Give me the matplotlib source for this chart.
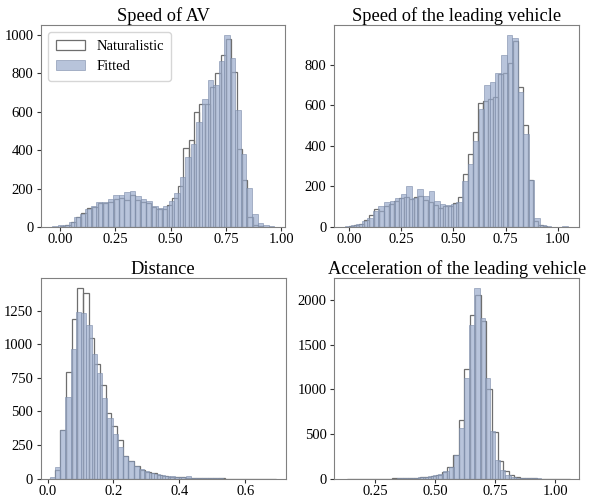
#########################################
##   Naturalistic vs fitted histograms ##
#########################################

import numpy as np
import matplotlib
matplotlib.use('Agg')
import matplotlib.pyplot as plt

plt.rcParams['font.family'] = ['Liberation Serif', 'DejaVu Serif']

# ----------------------------------------------------#

## Data (bin start, bin width and counts per bin, 40 bins each) ##
##################################################################

# Speed of AV
av_nat_start, av_nat_width = 0.0, 0.0242
av_nat = [5, 10, 25, 50, 75, 100, 105, 125, 125, 130,
          145, 150, 140, 165, 140, 130, 125, 105, 95, 95,
          115, 150, 215, 410, 450, 600, 640, 640, 730, 800,
          895, 975, 805, 405, 245, 50, 12, 5, 2, 1]
av_fit_start, av_fit_width = -0.036, 0.0251
av_fit = [3, 8, 12, 28, 50, 70, 92, 110, 128, 128,
          143, 164, 167, 180, 185, 160, 143, 135, 110, 98,
          110, 135, 175, 258, 362, 430, 545, 665, 765, 740,
          865, 1000, 880, 610, 380, 205, 70, 20, 8, 3]

# Speed of the leading vehicle
lead_nat_start, lead_nat_width = 0.0, 0.02375
lead_nat = [3, 8, 15, 35, 60, 90, 80, 105, 115, 130,
            145, 148, 140, 150, 155, 135, 125, 110, 95, 105,
            105, 120, 150, 260, 360, 470, 610, 620, 630, 640,
            755, 760, 810, 920, 690, 505, 230, 30, 8, 3]
lead_fit_start, lead_fit_width = -0.019, 0.02666
lead_fit = [5, 8, 15, 28, 45, 80, 105, 125, 130, 145,
            165, 200, 145, 190, 155, 180, 130, 115, 110, 112,
            125, 226, 310, 426, 585, 700, 717, 760, 850, 950,
            932, 665, 460, 230, 45, 12, 4, 2, 2, 3]

# Distance
dist_nat_start, dist_nat_width = 0.004, 0.0172
dist_nat = [0, 65, 360, 795, 1190, 1420, 1380, 1050, 850, 700,
            490, 390, 285, 170, 130, 95, 65, 50, 40, 28,
            20, 15, 12, 10, 8, 6, 5, 4, 3, 2,
            2, 1, 1, 1, 0, 1, 0, 0, 1, 1]
dist_fit_start, dist_fit_width = 0.0065, 0.0159
dist_fit = [12, 90, 362, 605, 965, 1240, 1235, 1145, 925, 785,
            600, 450, 330, 235, 170, 130, 95, 70, 55, 40,
            32, 25, 20, 18, 15, 15, 18, 8, 5, 4,
            3, 2, 2, 1, 1, 1, 0, 1, 0, 1]

# Acceleration of the leading vehicle
acc_nat_start, acc_nat_width = 0.134, 0.0232
acc_nat = [1, 0, 1, 0, 0, 1, 0, 1, 2, 3,
           4, 6, 10, 15, 22, 30, 45, 70, 130, 260,
           653, 1230, 1830, 2050, 1767, 998, 520, 200, 90, 40,
           18, 8, 4, 2, 1, 1, 0, 0, 1, 0]
acc_fit_start, acc_fit_width = 0.148, 0.0215
acc_fit = [0, 1, 0, 0, 1, 0, 1, 1, 1, 2,
           2, 3, 8, 15, 22, 30, 40, 55, 85, 135,
           266, 567, 1130, 1718, 2135, 1797, 1130, 529, 210, 98,
           41, 22, 12, 6, 4, 3, 2, 1, 1, 0]

# ----------------------------------------------------#

## Plot one panel ##
####################

def plot_panel(ax, title, nat, fit, xlim, xticks, fmt):

    """
    Draw naturalistic counts as outlined bars and fitted counts as filled bars.
    nat / fit are tuples (start, width, counts).
    """
    for (start, width, counts), kind in [(nat, 'nat'), (fit, 'fit')]:
        edges = start + width * np.arange(len(counts) + 1)
        if kind == 'nat':
            ax.bar(edges[:-1], counts, width=np.diff(edges), align='edge',
                   facecolor='none', edgecolor='#6e6e6e', linewidth=0.9,
                   label='Naturalistic')
        else:
            ax.bar(edges[:-1], counts, width=np.diff(edges), align='edge',
                   facecolor='#9aabcc', alpha=0.7, edgecolor='#7f8fab',
                   linewidth=0.6, label='Fitted')

    ax.set_title(title, fontsize=13.2, pad=2)
    ax.set_xlim(*xlim)
    ax.set_xticks(xticks)
    ax.set_xticklabels([fmt.format(t) for t in xticks])
    ax.tick_params(labelsize=10.5, length=3, width=0.8, color='#333333')
    ax.tick_params(axis='x', pad=1.5)
    ax.tick_params(axis='y', pad=2.5)
    for s in ax.spines.values():
        s.set_color('#808080')
        s.set_linewidth(0.8)


fig = plt.figure(figsize=(5.9, 4.98), dpi=100)
ax1 = fig.add_axes([0.0695, 0.5442, 0.4136, 0.4056])
ax2 = fig.add_axes([0.5661, 0.5442, 0.4153, 0.4056])
ax3 = fig.add_axes([0.0690, 0.0388, 0.4153, 0.4024])
ax4 = fig.add_axes([0.5666, 0.0388, 0.4148, 0.4024])

plot_panel(ax1, 'Speed of AV',
           (av_nat_start, av_nat_width, av_nat),
           (av_fit_start, av_fit_width, av_fit),
           (-0.086, 1.017), [0, 0.25, 0.5, 0.75, 1.0], '{:.2f}')
plot_panel(ax2, 'Speed of the leading vehicle',
           (lead_nat_start, lead_nat_width, lead_nat),
           (lead_fit_start, lead_fit_width, lead_fit),
           (-0.072, 1.101), [0, 0.25, 0.5, 0.75, 1.0], '{:.2f}')
plot_panel(ax3, 'Distance',
           (dist_nat_start, dist_nat_width, dist_nat),
           (dist_fit_start, dist_fit_width, dist_fit),
           (-0.021, 0.723), [0, 0.2, 0.4, 0.6], '{:.1f}')
plot_panel(ax4, 'Acceleration of the leading vehicle',
           (acc_nat_start, acc_nat_width, acc_nat),
           (acc_fit_start, acc_fit_width, acc_fit),
           (0.08, 1.10), [0.25, 0.5, 0.75, 1.0], '{:.2f}')

ax1.legend(loc='upper left', fontsize=10.5, frameon=True, fancybox=True,
           edgecolor='#cccccc', borderpad=0.5)

fig.savefig('out.png', dpi=100)
